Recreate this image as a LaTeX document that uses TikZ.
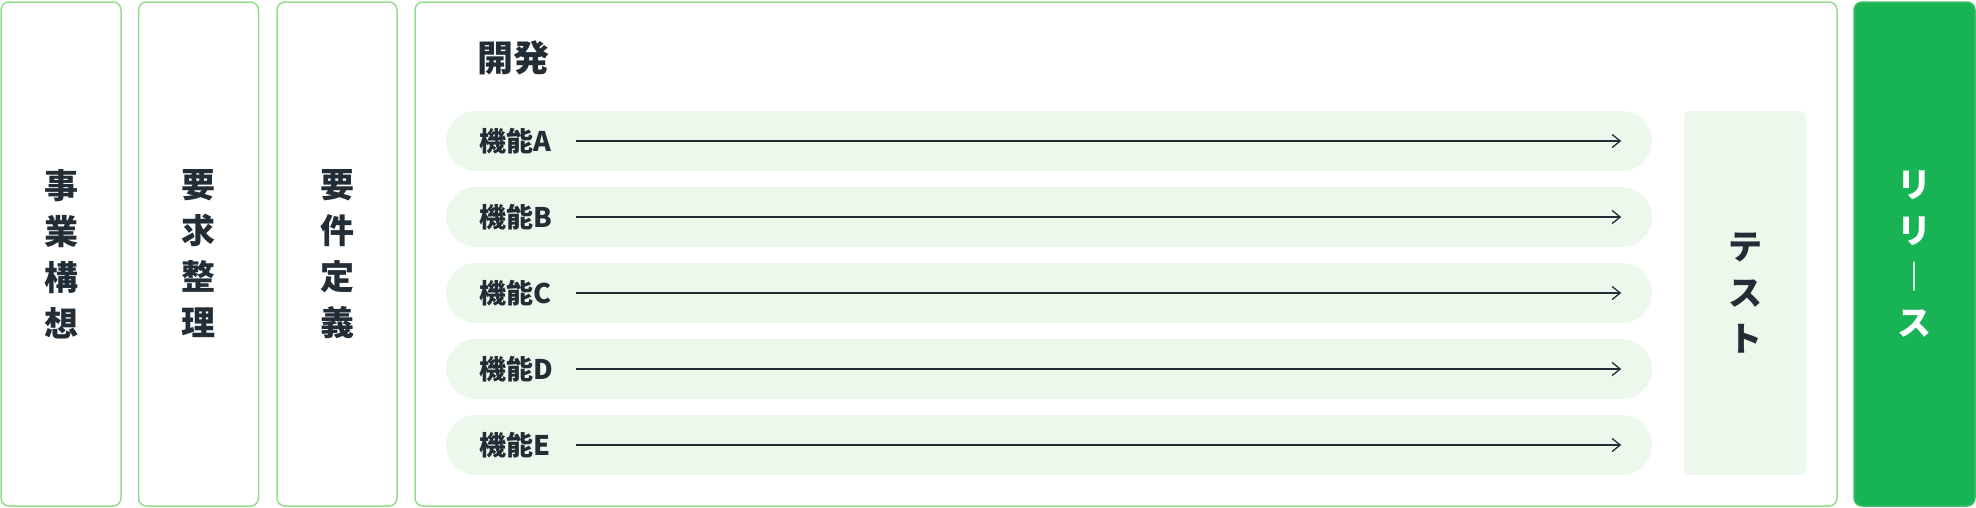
\documentclass[tikz,border=0pt]{standalone}
\usepackage{fontspec}
\setmainfont{Noto Sans CJK JP}
\usetikzlibrary{arrows.meta}
\definecolor{frame}{HTML}{94DE8B}
\definecolor{pale}{HTML}{EDF8EC}
\definecolor{leaf}{HTML}{17B355}
\definecolor{ink}{HTML}{222D36}
\begin{document}
\begin{tikzpicture}
    [ x=1pt, y=-1pt,
      stage-node/.style = {
        shape=rectangle, rounded corners=8pt,
        draw=frame, line width=1.5pt, align=center,
        minimum width=120pt, minimum height=504pt,
        text=ink, font=\bfseries\fontsize{34}{46}\selectfont
      },
      feat-node/.style = {
        shape=rectangle, rounded corners=30pt, fill=pale,
        minimum width=1206pt, minimum height=60pt
      },
      test-node/.style = {
        shape=rectangle, rounded corners=6pt, fill=pale, align=center,
        minimum width=122pt, minimum height=364pt,
        text=ink, font=\bfseries\fontsize{34}{46}\selectfont
      },
      lbl/.style = {anchor=west, inner sep=0pt, text=ink,
        font=\bfseries\fontsize{27}{30}\selectfont},
      flow/.style = {draw=ink, line width=1.3pt,
        -{Straight Barb[length=8pt, width=13pt]}}]
      \useasboundingbox (0,0) rectangle (1976,507);
      % stages before development
      \node [stage-node] (idea) at (61,254) {事\\業\\構\\想};
      \node [stage-node] (needs) at (198.5,254) {要\\求\\整\\理};
      \node [stage-node] (spec) at (337,254) {要\\件\\定\\義};
      % development
      \node [stage-node, minimum width=1422pt] (dev) at (1126,254) {};
      \node [lbl, font=\bfseries\fontsize{36}{40}\selectfont] (devtitle) at (477,58) {開発};
      \node [feat-node] (featA) at (1049,141) {};
      \node [feat-node] (featB) at (1049,217) {};
      \node [feat-node] (featC) at (1049,293) {};
      \node [feat-node] (featD) at (1049,369) {};
      \node [feat-node] (featE) at (1049,445) {};
      \node [lbl] (labA) at (479,141) {機能A};
      \node [lbl] (labB) at (479,217) {機能B};
      \node [lbl] (labC) at (479,293) {機能C};
      \node [lbl] (labD) at (479,369) {機能D};
      \node [lbl] (labE) at (479,445) {機能E};
      \draw [flow] ([xshift=97pt]labA.west) -- ([xshift=-31pt]featA.east);
      \draw [flow] ([xshift=97pt]labB.west) -- ([xshift=-31pt]featB.east);
      \draw [flow] ([xshift=97pt]labC.west) -- ([xshift=-31pt]featC.east);
      \draw [flow] ([xshift=97pt]labD.west) -- ([xshift=-31pt]featD.east);
      \draw [flow] ([xshift=97pt]labE.west) -- ([xshift=-31pt]featE.east);
      \node [test-node] (test) at (1745,293) {テ\\ス\\ト};
      % release
      \node [stage-node, fill=leaf, draw=leaf!70!frame, minimum width=121pt, text=white]
        (release) at (1914.5,254) {リ\\リ\\︱\\ス};
  \end{tikzpicture}
\end{document}
